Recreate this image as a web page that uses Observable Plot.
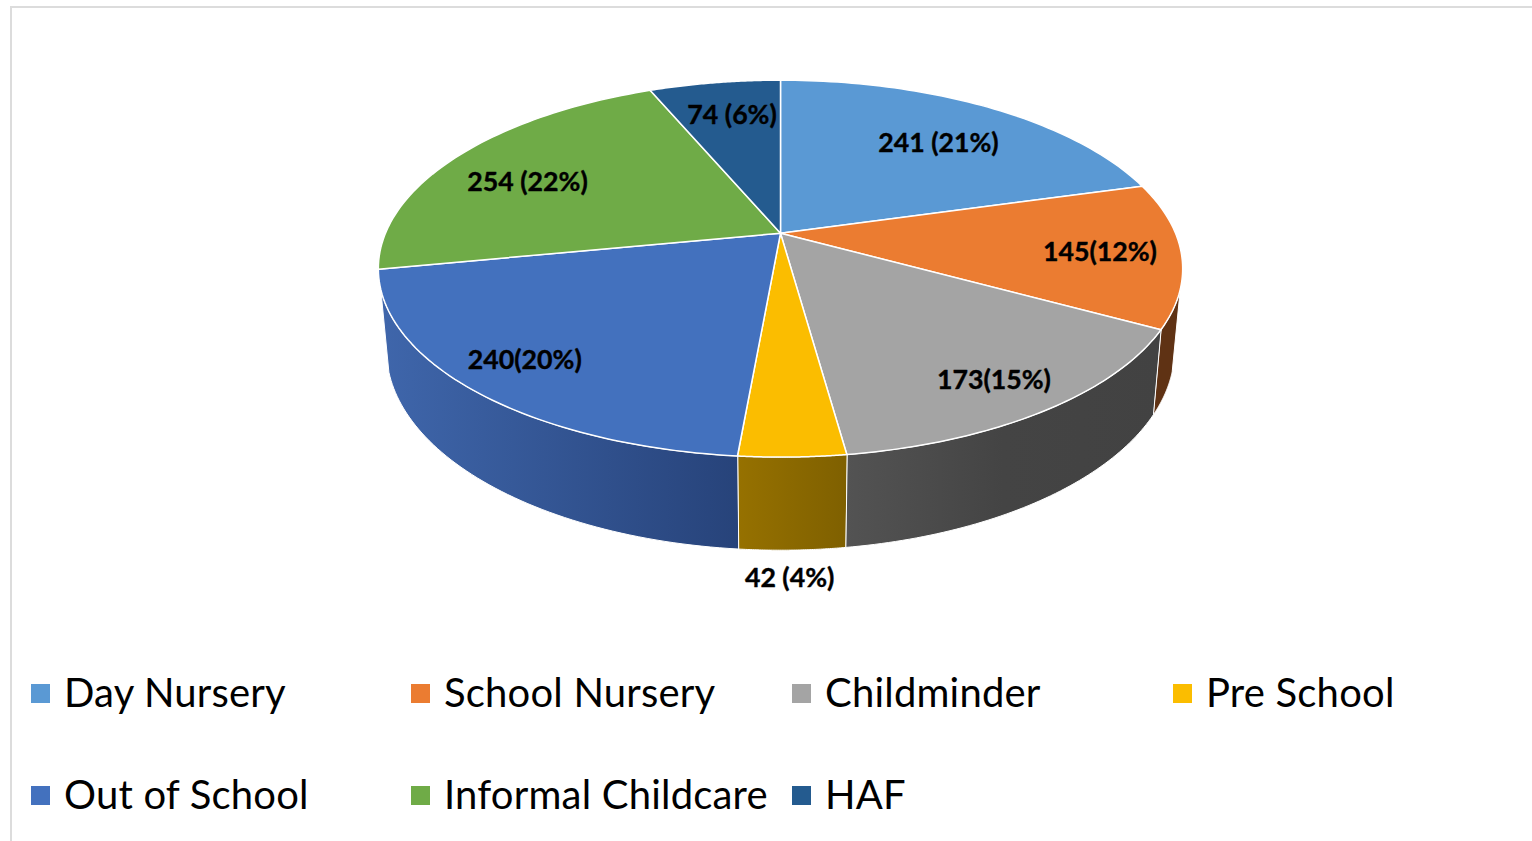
<!DOCTYPE html>
<html>
<head>
<meta charset="utf-8">
<script src="https://cdn.jsdelivr.net/npm/d3@7"></script>
<script src="https://cdn.jsdelivr.net/npm/@observablehq/plot@0.6"></script>
<style>
  html, body { margin: 0; padding: 0; background: #fff; overflow: hidden; }
  #page { position: relative; width: 1532px; height: 841px; box-sizing: border-box; }
  #frame { position: absolute; left: 10px; top: 6px; right: -4px; bottom: -4px; border: 2px solid #dcdcdc; }
  #chart { position: absolute; left: 0; top: 0; }
  #chart svg { display: block; }
  #legend { position: absolute; left: 0; top: 0; font-family: Lato, "Open Sans", sans-serif; color: #000; }
  .item { position: absolute; display: block; white-space: nowrap; font-size: 40px; letter-spacing: 0.2px; line-height: 46px; height: 46px; }
  .sw { position: absolute; left: 0; top: 15px; width: 19px; height: 19px; }
  .tx { position: absolute; left: 33px; top: 0; }
</style>
</head>
<body>
<div id="page"><div id="frame"></div><div id="chart"></div><div id="legend"></div></div>
<script>
// ---- data ----
const categories = ["Day Nursery", "School Nursery", "Childminder", "Pre School", "Out of School", "Informal Childcare", "HAF"];
const values = [241, 145, 173, 42, 240, 254, 74];
const sliceLabels = ["241 (21%)", "145(12%)", "173(15%)", "42 (4%)", "240(20%)", "254 (22%)", "74 (6%)"];
const faceColors = ["#5a99d4", "#eb7c31", "#a4a4a4", "#fbbd00", "#4371be", "#6fab47", "#245b8f"];
const wallStops = [null, ["#5f3214", "#5f3214"], ["#535353", "#444444", "#424242"], ["#967100", "#7f6000"], ["#3f66ab", "#27437a"], null, null];

// ---- label layout: radial position and nudge, relative to each slice ----
const labelRadius = [0.71, 0.80, 0.845, 1.40, 0.84, 0.74, 0.75];
const labelNudge = [[5, 3], [0, 2], [-4, 2], [-9, 0], [-4, -1], [-11, 9], [3, 0]];

// ---- projection of the pie disc (perspective view from the front) ----
const cx = 780;
const topDisc = {a: 395, b: 181.8, k: 0.188, y0: 232.7};
const baseDisc = {a: 387, b: 193, k: 0.188, y0: 312};
function project(d, deg, r = 1) {
  const t = deg * Math.PI / 180, u = r * Math.sin(t), v = r * Math.cos(t), w = 1 + d.k * v;
  return [cx + d.a * u / w, d.y0 - d.b * v / w];
}
const total = d3.sum(values);
const cum = d3.cumsum(values);
const slices = categories.map((name, i) => ({
  name, i,
  start: (cum[i] - values[i]) / total * 360,
  end: cum[i] / total * 360
}));
const arc = (d, a0, a1) => d3.range(0, 61).map(s => project(d, a0 + (a1 - a0) * s / 60));

// Visible part of the outer wall, limited by the disc's left and right silhouettes.
const wallFrom = 107, wallTo = 253;
const wallPts = [], facePts = [];
for (const s of slices) {
  const p = [[cx, topDisc.y0], ...arc(topDisc, s.start, s.end)];
  for (const [x, y] of p) facePts.push({x, y, key: s.name, fill: faceColors[s.i]});
  const a0 = Math.max(s.start, wallFrom), a1 = Math.min(s.end, wallTo);
  if (a1 > a0) {
    const q = [...arc(topDisc, a0, a1), ...arc(baseDisc, a0, a1).reverse()];
    for (const [x, y] of q) wallPts.push({x, y, key: s.name, fill: `url(#wall${s.i})`});
  }
}
const labelData = slices.map(s => {
  const [x, y] = project(topDisc, (s.start + s.end) / 2, labelRadius[s.i]);
  return {x: x + labelNudge[s.i][0], y: y + labelNudge[s.i][1], text: sliceLabels[s.i]};
});

function gradients() {
  const ns = "http://www.w3.org/2000/svg";
  const defs = document.createElementNS(ns, "defs");
  wallStops.forEach((st, i) => {
    if (!st) return;
    const g = document.createElementNS(ns, "linearGradient");
    g.setAttribute("id", `wall${i}`);
    st.forEach((c, j) => {
      const e = document.createElementNS(ns, "stop");
      e.setAttribute("offset", j / (st.length - 1));
      e.setAttribute("stop-color", c);
      g.appendChild(e);
    });
    defs.appendChild(g);
  });
  return defs;
}

const W = 1532, H = 640;
const chart = Plot.plot({
  width: W, height: H, margin: 0,
  style: {background: "transparent"},
  x: {domain: [0, W], range: [0, W], axis: null},
  y: {domain: [0, H], range: [0, H], axis: null},
  color: {type: "identity"},
  marks: [
    gradients,
    Plot.line(wallPts, {x: "x", y: "y", z: "key", fill: "fill", stroke: "#fff", strokeWidth: 1, curve: "linear-closed"}),
    Plot.line(facePts, {x: "x", y: "y", z: "key", fill: "fill", stroke: "#fff", strokeWidth: 1.5, strokeLinejoin: "round", curve: "linear-closed"}),
    Plot.text(labelData, {x: "x", y: "y", text: "text", fill: "#000", stroke: "#000", strokeWidth: 0.4, fontSize: 26.7, fontWeight: 700, fontFamily: "Lato, 'Open Sans', sans-serif", textAnchor: "middle", lineAnchor: "middle"})
  ]
});
document.getElementById("chart").appendChild(chart);

// ---- legend, below the pie ----
const legendCols = [31, 411, 792, 1173];
const legendRows = [669, 771];
const legend = document.getElementById("legend");
categories.forEach((name, i) => {
  const el = document.createElement("div");
  el.className = "item";
  el.style.left = legendCols[i < 4 ? i : i - 4] + "px";
  el.style.top = legendRows[i < 4 ? 0 : 1] + "px";
  el.innerHTML = `<span class="sw" style="background:${faceColors[i]}"></span><span class="tx">${name}</span>`;
  legend.appendChild(el);
});
</script>
</body>
</html>
